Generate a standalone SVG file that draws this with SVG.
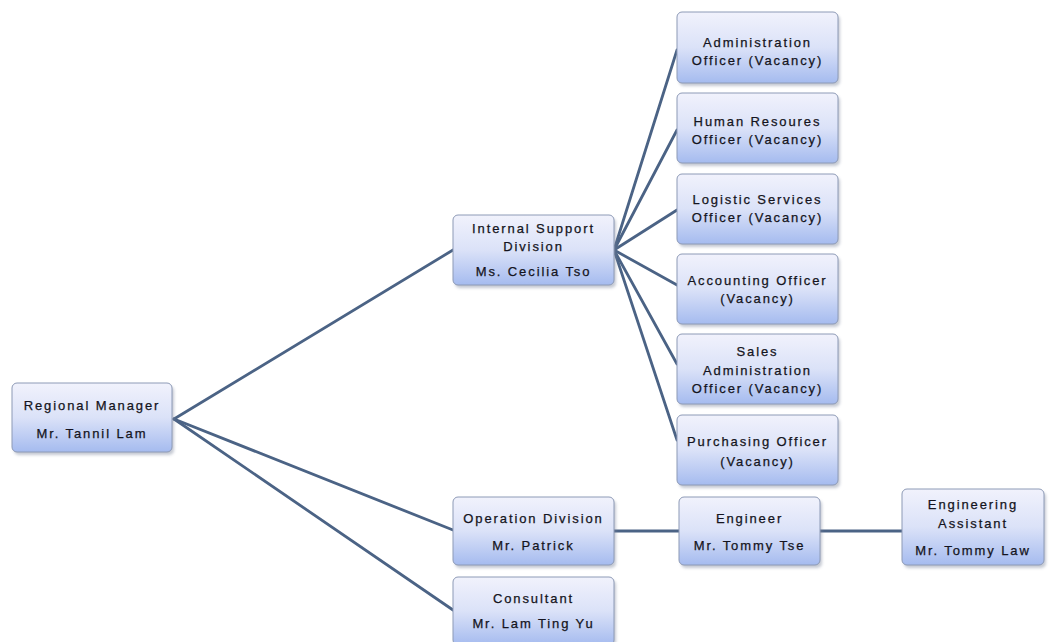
<svg xmlns="http://www.w3.org/2000/svg" width="1056" height="642" viewBox="0 0 1056 642">
<style>
.box{fill:url(#g);stroke:#8d9ab6;stroke-width:1}
.sh{fill:#7d869c;opacity:0.45;filter:url(#blur)}
.t{font-family:"Liberation Sans",Arial,sans-serif;font-size:13px;letter-spacing:1.9px;fill:#141420;text-anchor:middle;stroke:#141420;stroke-width:0.25}
.c{stroke:#4b6385;stroke-width:2.8;fill:none;stroke-linecap:round}
</style>
<defs>
<linearGradient id="g" x1="0" y1="0" x2="0" y2="1">
<stop offset="0" stop-color="#f1f2fc"/>
<stop offset="0.5" stop-color="#dbe2f8"/>
<stop offset="1" stop-color="#a5bbef"/>
</linearGradient>
<filter id="blur" x="-10%" y="-10%" width="120%" height="130%"><feGaussianBlur stdDeviation="1.5"/></filter>
</defs>
<rect width="1056" height="642" fill="#ffffff"/>
<g id="connectors">
<line class="c" x1="174" y1="419" x2="453" y2="250"/>
<line class="c" x1="174" y1="419" x2="453" y2="530"/>
<line class="c" x1="174" y1="419" x2="453" y2="610"/>
<line class="c" x1="614" y1="250" x2="677" y2="50"/>
<line class="c" x1="614" y1="250" x2="677" y2="130"/>
<line class="c" x1="614" y1="250" x2="677" y2="210"/>
<line class="c" x1="614" y1="250" x2="677" y2="285"/>
<line class="c" x1="614" y1="250" x2="677" y2="364"/>
<line class="c" x1="614" y1="250" x2="677" y2="440"/>
<line class="c" x1="614" y1="531" x2="679" y2="531"/>
<line class="c" x1="820" y1="531" x2="902" y2="531"/>
</g>
<g id="regional-manager">
<rect class="sh" x="14" y="386" width="160" height="69" rx="5"/>
<rect class="box" x="12" y="383" width="160" height="69" rx="5"/>
<text class="t" x="92" y="410">Regional Manager</text>
<text class="t" x="92" y="438">Mr. Tannil Lam</text>
</g>
<g id="internal-support">
<rect class="sh" x="455" y="218" width="161" height="70" rx="5"/>
<rect class="box" x="453" y="215" width="161" height="70" rx="5"/>
<text class="t" x="533.5" y="233">Internal Support</text>
<text class="t" x="533.5" y="251">Division</text>
<text class="t" x="533.5" y="276">Ms. Cecilia Tso</text>
</g>
<g id="administration-officer">
<rect class="sh" x="679" y="15" width="161" height="71" rx="5"/>
<rect class="box" x="677" y="12" width="161" height="71" rx="5"/>
<text class="t" x="757.5" y="47">Administration</text>
<text class="t" x="757.5" y="65">Officer (Vacancy)</text>
</g>
<g id="human-resources-officer">
<rect class="sh" x="679" y="96" width="161" height="70" rx="5"/>
<rect class="box" x="677" y="93" width="161" height="70" rx="5"/>
<text class="t" x="757.5" y="126">Human Resoures</text>
<text class="t" x="757.5" y="144">Officer (Vacancy)</text>
</g>
<g id="logistic-services-officer">
<rect class="sh" x="679" y="177" width="161" height="70" rx="5"/>
<rect class="box" x="677" y="174" width="161" height="70" rx="5"/>
<text class="t" x="757.5" y="204">Logistic Services</text>
<text class="t" x="757.5" y="222">Officer (Vacancy)</text>
</g>
<g id="accounting-officer">
<rect class="sh" x="679" y="257" width="161" height="70" rx="5"/>
<rect class="box" x="677" y="254" width="161" height="70" rx="5"/>
<text class="t" x="757.5" y="285">Accounting Officer</text>
<text class="t" x="757.5" y="303">(Vacancy)</text>
</g>
<g id="sales-administration-officer">
<rect class="sh" x="679" y="337" width="161" height="70" rx="5"/>
<rect class="box" x="677" y="334" width="161" height="70" rx="5"/>
<text class="t" x="757.5" y="356">Sales</text>
<text class="t" x="757.5" y="375">Administration</text>
<text class="t" x="757.5" y="393">Officer (Vacancy)</text>
</g>
<g id="purchasing-officer">
<rect class="sh" x="679" y="418" width="161" height="70" rx="5"/>
<rect class="box" x="677" y="415" width="161" height="70" rx="5"/>
<text class="t" x="757.5" y="446">Purchasing Officer</text>
<text class="t" x="757.5" y="466">(Vacancy)</text>
</g>
<g id="operation-division">
<rect class="sh" x="455" y="500" width="161" height="68" rx="5"/>
<rect class="box" x="453" y="497" width="161" height="68" rx="5"/>
<text class="t" x="533.5" y="523">Operation Division</text>
<text class="t" x="533.5" y="550">Mr. Patrick</text>
</g>
<g id="consultant">
<rect class="sh" x="455" y="580" width="161" height="68" rx="5"/>
<rect class="box" x="453" y="577" width="161" height="68" rx="5"/>
<text class="t" x="533.5" y="603">Consultant</text>
<text class="t" x="533.5" y="628">Mr. Lam Ting Yu</text>
</g>
<g id="engineer">
<rect class="sh" x="681" y="500" width="141" height="68" rx="5"/>
<rect class="box" x="679" y="497" width="141" height="68" rx="5"/>
<text class="t" x="749.5" y="523">Engineer</text>
<text class="t" x="749.5" y="550">Mr. Tommy Tse</text>
</g>
<g id="engineering-assistant">
<rect class="sh" x="904" y="492" width="142" height="76" rx="5"/>
<rect class="box" x="902" y="489" width="142" height="76" rx="5"/>
<text class="t" x="973" y="509">Engineering</text>
<text class="t" x="973" y="528">Assistant</text>
<text class="t" x="973" y="555">Mr. Tommy Law</text>
</g>
</svg>
